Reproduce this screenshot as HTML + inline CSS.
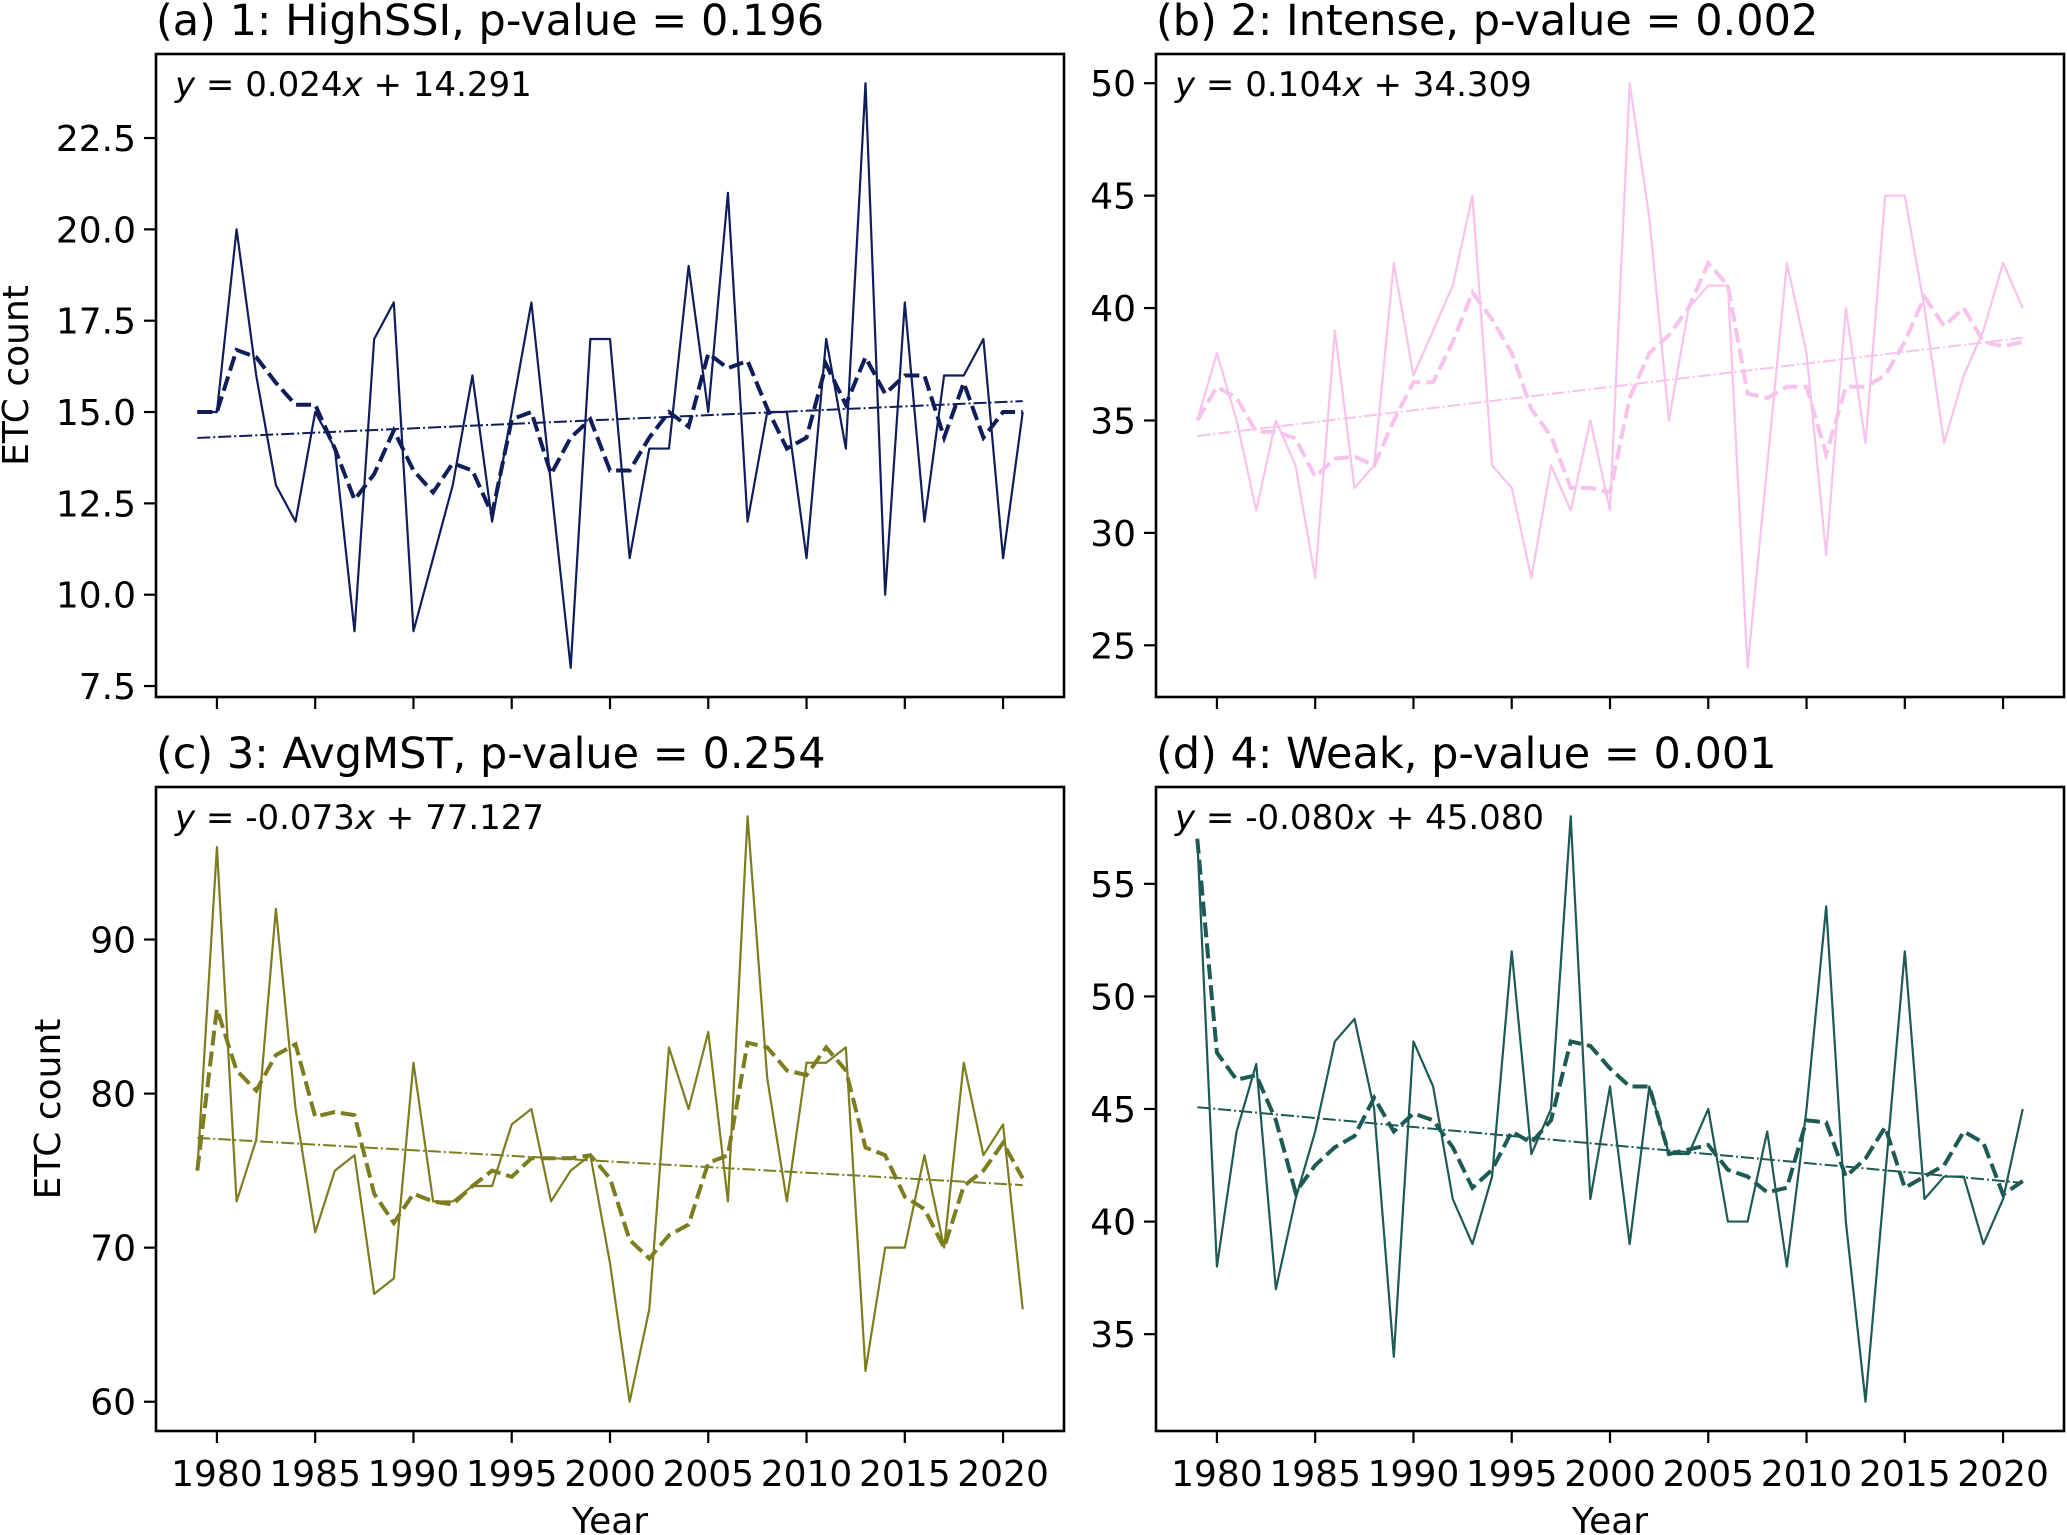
<!DOCTYPE html>
<html><head><meta charset="utf-8">
<style>
html,body{margin:0;padding:0;background:#fff;}
svg{display:block;font-family:"DejaVu Sans","Liberation Sans",sans-serif;}
</style></head>
<body>
<svg id="chart" width="2067" height="1535" viewBox="0 0 2067 1535" xmlns="http://www.w3.org/2000/svg"></svg>
<script>
const years = [];
for (let y = 1979; y <= 2021; y++) years.push(y);
const xTickYears = [1980,1985,1990,1995,2000,2005,2010,2015,2020];

const titles = ["(a) 1: HighSSI, p-value = 0.196","(b) 2: Intense, p-value = 0.002","(c) 3: AvgMST, p-value = 0.254","(d) 4: Weak, p-value = 0.001"];
const slopes = [0.024, 0.104, -0.073, -0.080];
const intercepts = [14.291, 34.309, 77.127, 45.080];
const eqLabels = ["0.024","0.104","-0.073","-0.080"];
const eqInts = ["14.291","34.309","77.127","45.080"];
const colors = ["#0f1d5a","#f7c2ec","#7d7d20","#1d5a56"];

const valuesA = [15,15,20,16,13,12,15,14,9,17,18,9,11,13,16,12,15,18,13,8,17,17,11,14,14,19,15,21,12,15,15,11,17,14,24,10,18,12,16,16,17,11,15];
const smoothA = [15,15,16.7,16.5,15.8,15.2,15.2,14,12.6,13.3,14.5,13.4,12.8,13.6,13.4,12.2,14.8,15,13.3,14.3,14.8,13.4,13.4,14.3,15,14.6,16.6,16.2,16.4,15.1,14,14.3,16.3,15.2,16.5,15.5,16,16,14.3,15.8,14.3,15,15];
const valuesB = [35,38,35,31,35,33,28,39,32,33,42,37,39,41,45,33,32,28,33,31,35,31,50,44,35,40,41,41,24,33,42,38,29,40,34,45,45,40,34,37,39,42,40];
const smoothB = [35,36.5,36,34.5,34.5,34.2,32.5,33.3,33.4,33,35,36.7,36.7,38.5,40.7,39.5,38,35.5,34.3,32,32,31.8,36,38,38.8,40,42,41,36.2,36,36.5,36.5,33.5,36.5,36.5,37,38.5,40.5,39.2,40,38.5,38.3,38.5];
const valuesC = [75,96,73,77,92,79,71,75,76,67,68,82,73,73,74,74,78,79,73,75,76,69,60,66,83,79,84,73,98,81,73,82,82,83,62,70,70,76,70,82,76,78,66];
const smoothC = [75,85.5,81.5,80.2,82.5,83.2,78.5,78.8,78.6,73.5,71.6,73.5,73,72.8,74,75,74.6,75.8,75.8,75.8,76,74.5,70.5,69.3,70.8,71.5,75.5,76,83.3,83,81.5,81.2,83,81.5,76.5,76,73.3,72.5,70,74,75,76.8,74.5];
const valuesD = [57,38,44,47,37,41,44,48,49,45,34,48,46,41,39,42,52,43,45,58,41,46,39,46,43,43,45,40,40,44,38,45,54,40,32,42,52,41,42,42,39,41,45];
const smoothD = [57,47.5,46.3,46.5,44.5,41.3,42.5,43.3,43.8,45.5,44,44.8,44.5,43.3,41.5,42.3,44,43.5,44.5,48,47.8,46.8,46,46,43,43.2,43.4,42.3,42,41.3,41.5,44.5,44.4,42,42.8,44.2,41.5,42,42.5,44,43.5,41.2,41.8];

const yTicksA = ["7.5","10.0","12.5","15.0","17.5","20.0","22.5"];
const yTicksB = ["25","30","35","40","45","50"];
const yTicksC = ["60","70","80","90"];
const yTicksD = ["35","40","45","50","55"];

const allValues = [valuesA, valuesB, valuesC, valuesD];
const allSmooth = [smoothA, smoothB, smoothC, smoothD];
const allTicks = [yTicksA, yTicksB, yTicksC, yTicksD];
const panelNames = ["highssi","intense","avgmst","weak"];

const NS = "http://www.w3.org/2000/svg";
const svg = document.getElementById('chart');
function mk(tag, attrs, parent) {
  const e = document.createElementNS(NS, tag);
  for (const k in attrs) e.setAttribute(k, attrs[k]);
  (parent || svg).appendChild(e);
  return e;
}
const boxes = [
  {l:156, r:1064, t:54, b:697},
  {l:1156, r:2064, t:54, b:697},
  {l:156, r:1064, t:787, b:1431},
  {l:1156, r:2064, t:787, b:1431}
];

for (let p = 0; p < 4; p++) {
  const B = boxes[p];
  const vals = allValues[p], sm = allSmooth[p];
  const x0 = years[0], x1 = years[years.length-1];
  const xm = (x1 - x0) * 0.05;
  const xs = v => B.l + (v - (x0 - xm)) / ((x1 - x0) + 2*xm) * (B.r - B.l);
  const vmin = Math.min(...vals), vmax = Math.max(...vals);
  const ym = (vmax - vmin) * 0.05;
  const ys = v => B.b - (v - (vmin - ym)) / ((vmax - vmin) + 2*ym) * (B.b - B.t);

  const g = mk('g', {});
  
  

  const title = mk('text', {x:B.l, y:B.t-19, 'font-size':43, fill:'#000'}, g);
  title.textContent = titles[p];
  
  

  const solid = mk('polyline', {points: vals.map((v,i)=>xs(years[i])+','+ys(v)).join(' '), fill:'none', stroke:colors[p], 'stroke-width':2.2, 'stroke-linejoin':'round'}, g);
  
  
  const dash = mk('polyline', {points: sm.map((v,i)=>xs(years[i])+','+ys(v)).join(' '), fill:'none', stroke:colors[p], 'stroke-width':4, 'stroke-dasharray':'15 6'}, g);
  
  
  const tl = mk('line', {x1:xs(x0), y1:ys(intercepts[p]), x2:xs(x1), y2:ys(intercepts[p]+slopes[p]*(x1-x0)), stroke:colors[p], 'stroke-width':2, 'stroke-dasharray':'13 3 2 3'}, g);
  
  

  const fr = mk('rect', {x:B.l, y:B.t, width:B.r-B.l, height:B.b-B.t, fill:'none', stroke:'#000', 'stroke-width':2.6}, g);
  
  

  xTickYears.forEach(yr => {
    const X = xs(yr);
    mk('line', {x1:X, y1:B.b, x2:X, y2:B.b+12, stroke:'#000', 'stroke-width':2.2}, g);
    if (p >= 2) {
      const t = mk('text', {x:X, y:B.b+55, 'font-size':36, 'text-anchor':'middle'}, g);
      t.textContent = yr;
      
      
    }
  });
  allTicks[p].forEach(lbl => {
    const Y = ys(parseFloat(lbl));
    mk('line', {x1:B.l-12, y1:Y, x2:B.l, y2:Y, stroke:'#000', 'stroke-width':2.2}, g);
    const t = mk('text', {x:B.l-20, y:Y+13, 'font-size':36, 'text-anchor':'end'}, g);
    t.textContent = lbl;
    
    
  });

  const eq = mk('text', {x:B.l+19, y:B.t+42, 'font-size':34}, g);
  eq.innerHTML = '<tspan font-style="italic">y</tspan> = ' + eqLabels[p] + '<tspan font-style="italic">x</tspan> + ' + eqInts[p];
  
  

  if (p % 2 === 0) {
    const cx = p === 0 ? 28 : 60, cy = (B.t + B.b) / 2;
    const yl = mk('text', {x:cx, y:cy, 'font-size':36, 'text-anchor':'middle', transform:'rotate(-90 '+cx+' '+cy+')'}, g);
    yl.textContent = 'ETC count';
    
    
  }
  if (p >= 2) {
    const xl = mk('text', {x:(B.l+B.r)/2, y:1533, 'font-size':36, 'text-anchor':'middle'}, g);
    xl.textContent = 'Year';
    
    
  }
}
</script>
</body></html>
